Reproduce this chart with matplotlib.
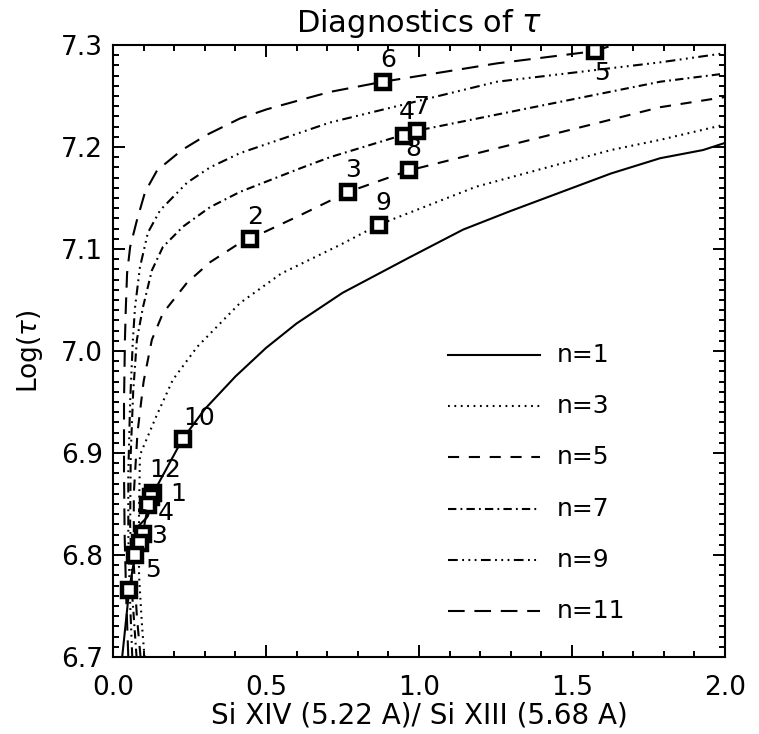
import matplotlib

matplotlib.use("Agg")
import matplotlib.pyplot as plt

plt.rcParams["font.family"] = ["DejaVu Sans"]
plt.rcParams["lines.scale_dashes"] = False

# model curves, log(tau) vs Si XIV / Si XIII ratio, one per DEM index n
n1_x = [0.030, 0.053, 0.072, 0.088, 0.097, 0.115, 0.123, 0.132, 0.228, 0.30, 0.40, 0.50, 0.60, 0.75, 0.964, 1.144, 1.297, 1.627, 1.788, 1.928, 2.0]
n1_y = [6.700, 6.766, 6.800, 6.812, 6.821, 6.849, 6.857, 6.861, 6.914, 6.943, 6.975, 7.003, 7.027, 7.057, 7.091, 7.119, 7.137, 7.174, 7.189, 7.197, 7.204]

n3_x = [0.103, 0.095, 0.085, 0.085, 0.088, 0.14, 0.196, 0.275, 0.415, 0.55, 0.742, 0.870, 1.186, 1.627, 1.788, 2.0]
n3_y = [6.700, 6.730, 6.780, 6.840, 6.898, 6.935, 6.972, 7.004, 7.047, 7.076, 7.104, 7.124, 7.161, 7.197, 7.207, 7.222]

n5_x = [0.090, 0.078, 0.068, 0.068, 0.080, 0.100, 0.127, 0.163, 0.242, 0.317, 0.415, 0.448, 0.611, 0.769, 0.967, 1.788, 2.0]
n5_y = [6.700, 6.740, 6.790, 6.860, 6.920, 6.970, 7.011, 7.037, 7.067, 7.087, 7.106, 7.110, 7.133, 7.156, 7.177, 7.239, 7.249]

n7_x = [0.077, 0.063, 0.056, 0.058, 0.066, 0.078, 0.098, 0.127, 0.163, 0.229, 0.317, 0.415, 0.611, 0.709, 0.993, 1.788, 2.0]
n7_y = [6.700, 6.760, 6.830, 6.900, 6.960, 7.011, 7.043, 7.079, 7.102, 7.122, 7.141, 7.156, 7.179, 7.190, 7.216, 7.264, 7.272]

n9_x = [0.063, 0.055, 0.050, 0.050, 0.056, 0.065, 0.072, 0.088, 0.114, 0.154, 0.242, 0.317, 0.415, 0.611, 0.709, 1.255, 1.788, 2.0]
n9_y = [6.700, 6.760, 6.820, 6.880, 6.950, 7.011, 7.043, 7.082, 7.116, 7.138, 7.165, 7.180, 7.194, 7.214, 7.224, 7.264, 7.283, 7.292]

n11_x = [0.050, 0.043, 0.038, 0.036, 0.036, 0.039, 0.042, 0.046, 0.056, 0.078, 0.105, 0.144, 0.225, 0.307, 0.415, 0.503, 0.611, 0.709, 0.883, 1.255, 1.575, 1.634]
n11_y = [6.700, 6.760, 6.820, 6.880, 6.950, 7.011, 7.043, 7.076, 7.102, 7.128, 7.156, 7.177, 7.197, 7.212, 7.228, 7.237, 7.246, 7.254, 7.264, 7.282, 7.294, 7.300]

# observed ratios
obs_x = [0.448, 0.769, 0.951, 1.575, 0.883, 0.993, 0.967, 0.870,
         0.228, 0.132, 0.123, 0.115, 0.097, 0.088, 0.072, 0.053]
obs_y = [7.110, 7.156, 7.211, 7.294, 7.264, 7.216, 7.177, 7.124,
         6.914, 6.861, 6.857, 6.849, 6.821, 6.812, 6.800, 6.766]
obs_labels = ["2", "3", "4", "5", "6", "7", "8", "9",
              "10", "12", "1", "4", "3", "2", "5", ""]
# label placement relative to each square, in pixels
label_offsets = [(5, 22), (5, 22), (3, 24), (7, -22), (5, 22), (5, 24), (4, 21), (4, 22),
                 (16, 21), (12, 23), (28, 3), (18, -8), (16, -2), (3, 23), (18, -15), (0, 0)]

curves = [
    ("n=1", n1_x, n1_y, "-"),
    ("n=3", n3_x, n3_y, (0, (1.3, 3.3))),
    ("n=5", n5_x, n5_y, (0, (8, 7))),
    ("n=7", n7_x, n7_y, (0, (6, 3, 1.3, 3))),
    ("n=9", n9_x, n9_y, (0, (7, 3.2, 1.3, 3.2, 1.3, 3.2, 1.3, 3.2))),
    ("n=11", n11_x, n11_y, (0, (12, 7))),
]

fig = plt.figure(figsize=(7.59, 7.34), dpi=100)
ax = fig.add_axes([113 / 759, 1 - 657 / 734, 612 / 759, 612 / 734])

for label, xs, ys, style in curves:
    ax.plot(xs, ys, color="black", linestyle=style, linewidth=1.5)

ax.plot(obs_x, obs_y, linestyle="none", marker="s", markersize=9.5,
        markerfacecolor="white", markeredgecolor="black", markeredgewidth=3.2, zorder=5)
for x, y, text, off in zip(obs_x, obs_y, obs_labels, label_offsets):
    if text:
        ax.annotate(text, (x, y), xytext=off, textcoords="offset pixels",
                    ha="center", va="center", fontsize=18, zorder=6)

# legend drawn by hand, IDL style
for i, (label, xs, ys, style) in enumerate(curves):
    yy = 0.493 - i * 0.0835
    ax.plot([0.547, 0.698], [yy, yy], transform=ax.transAxes, color="black",
            linestyle=style, linewidth=1.5)
    ax.text(0.725, yy, label, transform=ax.transAxes, ha="left", va="center", fontsize=18)

ax.set_xlim(0, 2.0)
ax.set_ylim(6.7, 7.3)
ax.set_xticks([0.0, 0.5, 1.0, 1.5, 2.0])
ax.set_xticks([i * 0.1 for i in range(21)], minor=True)
ax.set_yticks([6.7, 6.8, 6.9, 7.0, 7.1, 7.2, 7.3])
ax.set_yticks([6.7 + i * 0.01 for i in range(61)], minor=True)
ax.xaxis.set_major_formatter(matplotlib.ticker.FormatStrFormatter("%.1f"))
ax.yaxis.set_major_formatter(matplotlib.ticker.FormatStrFormatter("%.1f"))
ax.tick_params(which="both", direction="in", top=True, right=True, width=1.4, labelsize=19)
ax.tick_params(which="major", length=8.5)
ax.tick_params(which="minor", length=4.5)
ax.tick_params(axis="x", pad=13)
ax.tick_params(axis="y", pad=7)
for spine in ax.spines.values():
    spine.set_linewidth(1.5)

ax.set_title(r"Diagnostics of $\tau$", fontsize=22, pad=9)
ax.set_xlabel("Si XIV (5.22 A)/ Si XIII (5.68 A)", fontsize=20, labelpad=0)
ax.set_ylabel(r"Log($\tau$)", fontsize=19, labelpad=12)

fig.savefig("out.png", dpi=100)
